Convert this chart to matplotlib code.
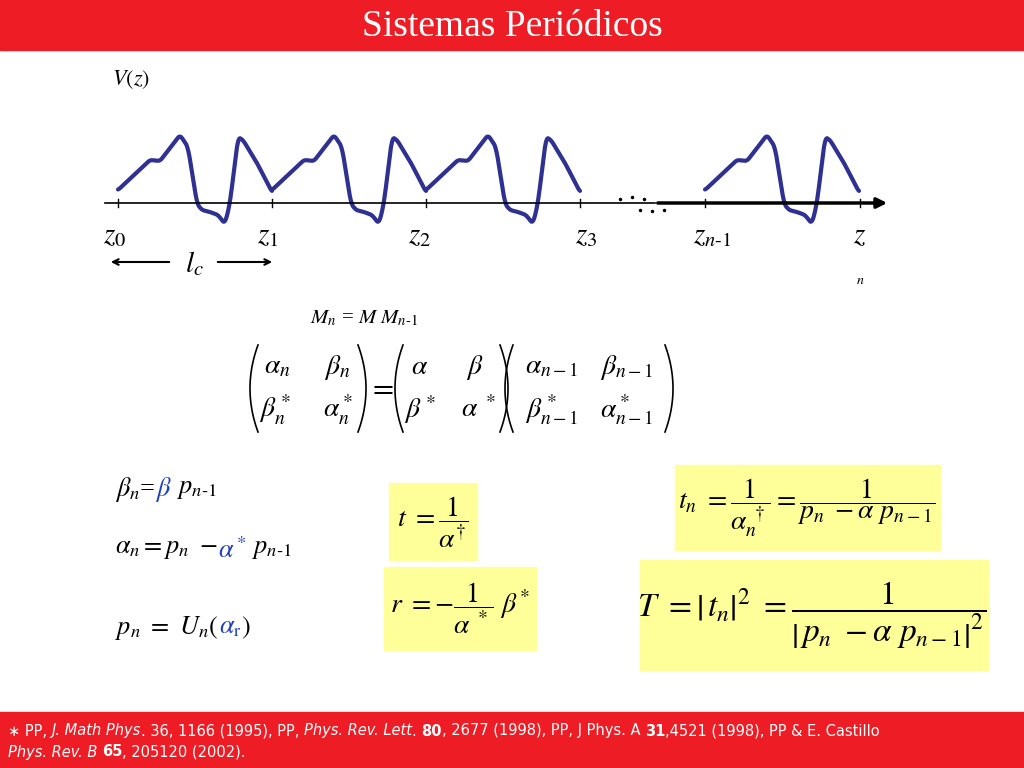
import numpy as np
import matplotlib
matplotlib.use("Agg")
import matplotlib.pyplot as plt
from matplotlib.patches import Rectangle

plt.rcParams['mathtext.fontset'] = 'stix'
plt.rcParams['font.family'] = 'Liberation Serif'

# one period of the potential (offset in px within a cell, screen y)
period_dx = [0, 16, 32, 42, 62, 70, 79, 84, 92, 100, 107, 112, 120, 125, 139, 154]
period_y = [190, 175, 160, 161, 135, 147, 204, 210, 212, 215, 224, 203, 137, 140, 163, 192]
cell_starts = [118, 272, 426]
last_cell_start = 705
cell_len = 154
tick_x = [118, 272, 426, 580, 705, 860]
tick_labels = [r"$z_0$", r"$z_1$", r"$z_2$", r"$z_3$", r"$z_{n\text{-}1}$", r"$z$"]

RED = "#ee1c25"
BLUE_LINE = "#2e3192"
YEL = "#ffff99"

fig = plt.figure(figsize=(10.24, 7.68), dpi=100)
ax = fig.add_axes([0, 0, 1, 1])
ax.set_xlim(0, 1024); ax.set_ylim(768, 0); ax.axis('off')

def seq(x, y, parts, fsz=19, **kw):
    for p in parts:
        txt, col = p[0], p[1]
        extra = p[2] if len(p) > 2 else {}
        t = ax.text(x, y, txt, fontsize=fsz, color=col, va='center', **kw, **extra)
        fig.canvas.draw()
        x += t.get_window_extent().width

ax.add_patch(Rectangle((0, 0), 1024, 50, color=RED))
ax.text(512, 27, "Sistemas Periódicos", color='white', fontsize=27, ha='center', va='center')
ax.add_patch(Rectangle((0, 712), 1024, 56, color=RED))
it = {'fontstyle': 'italic'}
bd = {'fontweight': 'bold'}
seq(8, 731, [("∗ PP, ", 'white'), ("J. Math Phys", 'white', it), (". 36, 1166 (1995), PP, ", 'white'),
             ("Phys. Rev. Lett", 'white', it), (". ", 'white'), ("80", 'white', bd),
             (", 2677 (1998), PP, J Phys. A ", 'white'), ("31", 'white', bd), (",4521 (1998), PP & E. Castillo", 'white')],
    fsz=10.5, family='DejaVu Sans')
seq(8, 752, [("Phys. Rev. B ", 'white', it), ("65", 'white', bd), (", 205120 (2002).", 'white')],
    fsz=10.5, family='DejaVu Sans')

# potential curve
def smooth_cell(x0):
    xs = np.linspace(0, cell_len, 300)
    ys = np.interp(xs, period_dx, period_y)
    k = np.ones(9) / 9
    ysp = np.pad(ys, 4, mode='edge')
    ys = np.convolve(ysp, k, mode='valid')
    return x0 + xs, ys

for s in cell_starts + [last_cell_start]:
    x, y = smooth_cell(s)
    ax.plot(x, y, color=BLUE_LINE, lw=3, solid_capstyle='round')

# axis
ax.plot([105, 655], [203, 203], color='black', lw=1.2)
ax.annotate("", xy=(890, 203), xytext=(655, 203),
            arrowprops=dict(arrowstyle='-|>', color='black', lw=2.5, mutation_scale=15))
for tx in tick_x:
    ax.plot([tx, tx], [199, 207], color='black', lw=1)
for dx, dy in [(620, 199), (632, 197), (644, 199), (640, 210), (652, 211), (664, 210)]:
    ax.plot(dx, dy, 'k.', ms=3)
lab_x = [115, 268, 420, 586, 712, 860]
for lx, t in zip(lab_x, tick_labels):
    ax.text(lx, 236, t, fontsize=21, ha='center', va='center')
ax.text(860, 280, r"$n$", fontsize=10, ha='center', va='center')
ax.text(112, 80, r"$V(z)$", fontsize=16, va='center')

ax.annotate("", xy=(108, 262), xytext=(172, 262), arrowprops=dict(arrowstyle='->', lw=1.5))
ax.annotate("", xy=(275, 262), xytext=(215, 262), arrowprops=dict(arrowstyle='->', lw=1.5))
ax.text(194, 264, r"$l_c$", fontsize=21, ha='center', va='center')

ax.text(310, 318, r"$M_n$ = $M\ M_{n\text{-}1}$", fontsize=15, va='center')

def paren(xc, left=True, top=345, bot=432):
    yy = np.linspace(top, bot, 60)
    yc = (top + bot) / 2; h = (bot - top) / 2
    off = 8 * (1 - ((yy - yc) / h) ** 2)
    xx = xc - off if left else xc + off
    ax.plot(xx, yy, color='black', lw=1.2)

for xc, l in [(258, True), (358, False), (403, True), (500, False), (513, True), (665, False)]:
    paren(xc, l)
ax.text(381, 389, "$=$", fontsize=22, ha='center', va='center')
fs = 20
cells = [(277, 367, r"$\alpha_n$"), (337, 367, r"$\beta_n$"), (275, 410, r"$\beta_n^*$"), (338, 410, r"$\alpha_n^*$"),
         (420, 367, r"$\alpha$"), (475, 367, r"$\beta$"), (420, 410, r"$\beta^*$"), (478, 410, r"$\alpha^{\ *}$"),
         (552, 367, r"$\alpha_{n-1}$"), (627, 367, r"$\beta_{n-1}$"), (552, 410, r"$\beta_{n-1}^*$"), (627, 410, r"$\alpha_{n-1}^*$")]
for cx, cy, t in cells:
    ax.text(cx, cy, t, fontsize=fs, ha='center', va='center')

# left equations
seq(115, 490, [(r"$\beta_n$=", 'black'), (r"$\beta$", '#1f3fbf'), (r" $p_{n\text{-}1}$", 'black')])
seq(115, 550, [(r"$\alpha_n = p_n\ -\ $", 'black'), (r"$\alpha^*$", '#1f3fbf'), (r" $p_{n\text{-}1}$", 'black')])
seq(115, 628, [(r"$p_n\ =\ U_n($", 'black'), (r"$\alpha_{\mathrm{r}}$", '#1f3fbf'), (r"$)$", 'black')])

# boxes
ax.add_patch(Rectangle((389, 483), 88, 77, color=YEL))
ax.text(433, 522, r"$t\ =\dfrac{1}{\alpha^{\dagger}}$", fontsize=20, ha='center', va='center')
ax.add_patch(Rectangle((384, 567), 152, 83, color=YEL))
ax.text(460, 608, r"$r\ =-\dfrac{1}{\alpha^{\ *}}\ \beta^{*}$", fontsize=20, ha='center', va='center')
ax.add_patch(Rectangle((675, 465), 265, 85, color=YEL))
ax.text(807, 508, r"$t_n\ =\dfrac{1}{\alpha_n^{\ \dagger}}=\dfrac{1}{p_n\ -\alpha\ p_{n-1}}$", fontsize=20, ha='center', va='center')
ax.add_patch(Rectangle((640, 560), 348, 110, color=YEL))
ax.text(812, 615, r"$T\ =\left|\,t_n\right|^2\ =\dfrac{1}{\left|\,p_n\ -\alpha\ p_{n-1}\right|^2}$", fontsize=24, ha='center', va='center')

fig.savefig("out.png", dpi=100)
